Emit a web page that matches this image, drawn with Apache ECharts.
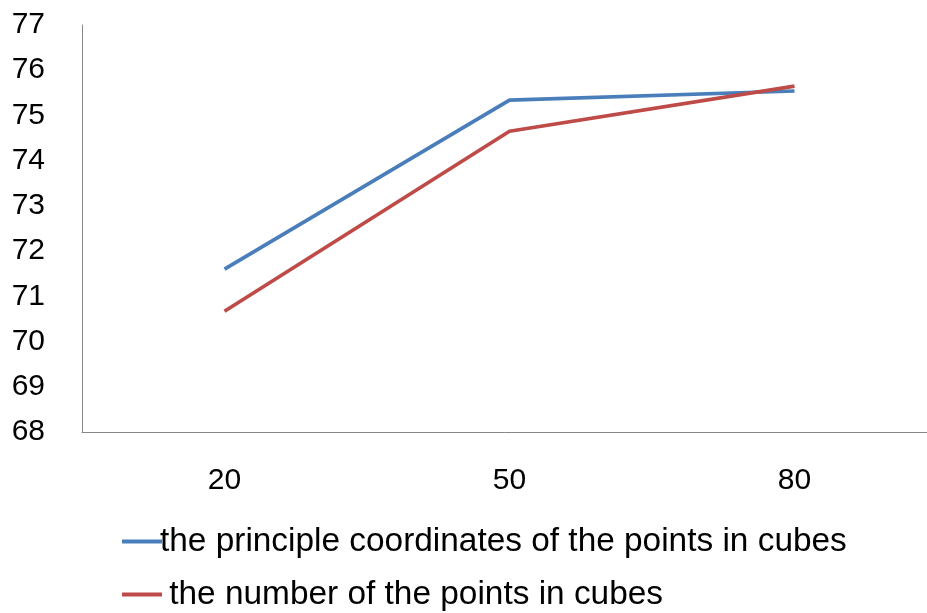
<!DOCTYPE html>
<html><head><meta charset="utf-8">
<script src="https://cdn.jsdelivr.net/npm/echarts@6/dist/echarts.min.js"></script>
<style>html,body{margin:0;padding:0;background:#fff}#c{width:927px;height:613px}</style>
</head><body><div id="c"></div>
<script>
var categories = ['20', '50', '80'];
var seriesNames = ['the principle coordinates of the points in cubes', ' the number of the points in cubes'];
var principleValues = [71.6, 75.34, 75.54];
var numberValues = [70.67, 74.65, 75.65];
var yMin = 68, yMax = 77, yStep = 1;

var FONT = '"Liberation Sans", sans-serif';
var legendCommon = {
  orient: 'horizontal', left: 117,
  icon: 'rect', itemWidth: 40, itemHeight: 4,
  textStyle: { color: '#000', fontFamily: FONT, fontSize: 33.4, padding: [0, 0, 0, -7] }
};
var chart = echarts.init(document.getElementById('c'));
chart.setOption({
  animation: false,
  backgroundColor: '#fff',
  grid: { left: 82, top: 25, width: 855, bottom: 181, containLabel: false, outerBoundsMode: 'none' },
  xAxis: {
    type: 'category', data: categories, boundaryGap: true,
    axisLine: { lineStyle: { color: '#868686', width: 1 } },
    axisTick: { show: false },
    axisLabel: { color: '#000', fontFamily: FONT, fontSize: 30, margin: 34 }
  },
  yAxis: {
    type: 'value', min: yMin, max: yMax, interval: yStep,
    axisLine: { show: true, lineStyle: { color: '#868686', width: 1 } },
    axisTick: { show: false },
    splitLine: { show: false },
    axisLabel: { color: '#000', fontFamily: FONT, fontSize: 30, margin: 37 }
  },
  legend: [
    Object.assign({}, legendCommon, { top: 520, data: [seriesNames[0]] }),
    Object.assign({}, legendCommon, { top: 573, data: [seriesNames[1]] })
  ],
  series: [
    { name: seriesNames[0], type: 'line', data: principleValues, symbol: 'none',
      lineStyle: { color: '#4A7EBB', width: 3.7 }, itemStyle: { color: '#4A7EBB' } },
    { name: seriesNames[1], type: 'line', data: numberValues, symbol: 'none',
      lineStyle: { color: '#BE4B48', width: 3.7 }, itemStyle: { color: '#BE4B48' } }
  ]
});
</script></body></html>
